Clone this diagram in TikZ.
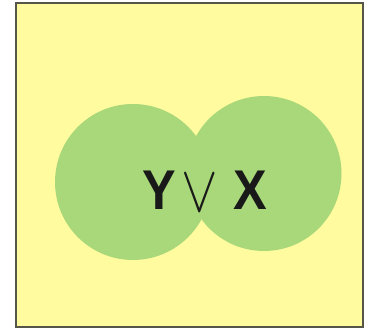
\documentclass[tikz,border=0pt]{standalone}
\usepackage{fontspec}
\setmainfont{Liberation Sans}
\definecolor{bgyellow}{RGB}{255,251,158}
\definecolor{setgreen}{RGB}{168,216,122}
\definecolor{framegray}{RGB}{85,85,72}
\tikzset{
  setcircle/.style={fill=setgreen, draw=none},
  letter/.style={inner sep=0pt, outer sep=0pt, font=\fontsize{56}{56}\selectfont\bfseries, text=black!90, anchor=base},
  opsym/.style={inner sep=0pt, outer sep=0pt, font=\Huge, text=black!90, anchor=base}
}
\begin{document}
\begin{tikzpicture}[x=1pt,y=-1pt]
  \useasboundingbox (0,0) rectangle (365,328);
  \fill[white] (0,0) rectangle (365,328);
  \fill[bgyellow, draw=framegray, line width=1.2pt] (16,3) rectangle (363,327);
  \fill[setcircle] (133,182) circle (78);
  \fill[setcircle] (264,173.5) circle (77.5);
  \node[letter, xscale=0.9] (y) at (159,210) {Y};
  \node[opsym, xscale=2.2, yscale=2.65] (or) at (200,212) {$\vee$};
  \node[letter, xscale=0.9] (x) at (250,210) {X};
\end{tikzpicture}
\end{document}
